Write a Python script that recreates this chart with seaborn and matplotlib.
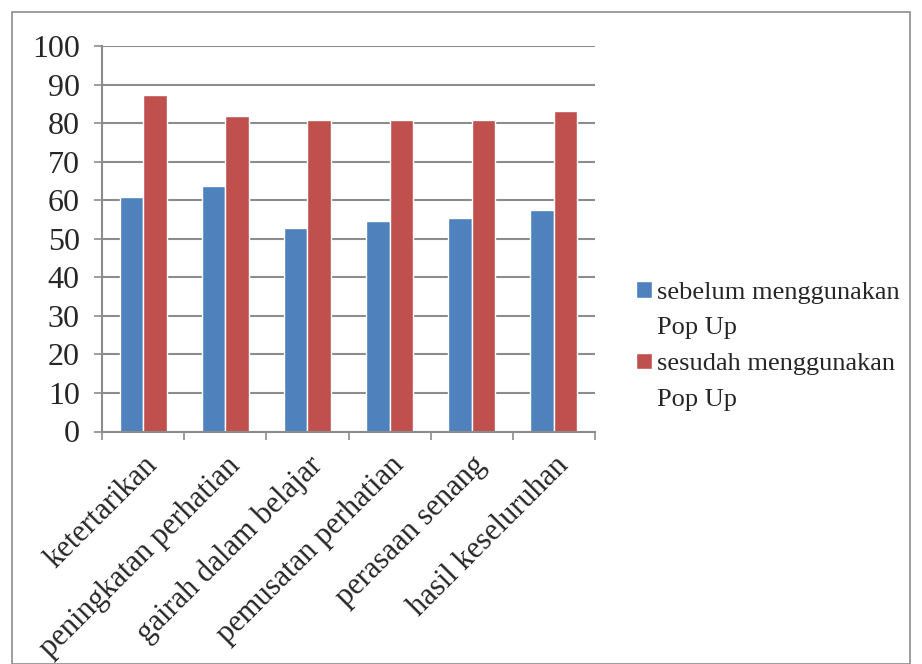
import pandas as pd
import matplotlib.pyplot as plt
import seaborn as sns
from matplotlib.patches import Rectangle

# Data
categories = ['ketertarikan', 'peningkatan perhatian', 'gairah dalam belajar',
              'pemusatan perhatian', 'perasaan senang', 'hasil keseluruhan']
sebelum = [60.9, 63.6, 52.7, 54.5, 55.5, 57.4]
sesudah = [87.2, 81.8, 80.9, 80.9, 80.9, 83.2]
series_names = ['sebelum menggunakan', 'sesudah menggunakan']

df = pd.DataFrame({
    'kategori': categories * 2,
    'nilai': sebelum + sesudah,
    'seri': [series_names[0]] * len(categories) + [series_names[1]] * len(categories),
})

sns.set_style('white')
plt.rcParams['font.family'] = ['Liberation Serif', 'DejaVu Serif']

fig = plt.figure(figsize=(9.22, 6.64), dpi=100)
ax = fig.add_axes([102 / 922, 1 - 431.5 / 664, 493 / 922, 385.5 / 664])

sns.barplot(data=df, x='kategori', y='nilai', hue='seri', ax=ax,
            palette=['#4F81BD', '#C0504D'], width=0.57, gap=0,
            saturation=1, legend=True)

ax.set_ylim(0, 100)
ax.set_xlim(-0.5, len(categories) - 0.5)
ax.set_yticks(range(0, 101, 10))
ax.yaxis.grid(True, color='#8c8c8c', linewidth=1.5)
ax.set_axisbelow(True)
ax.set_xlabel('')
ax.set_ylabel('')

for side in ['top', 'right']:
    ax.spines[side].set_visible(False)
for side in ['left', 'bottom']:
    ax.spines[side].set_color('#8c8c8c')
    ax.spines[side].set_linewidth(1.5)

ax.tick_params(axis='y', direction='out', length=6, width=1.2, color='#8c8c8c',
               labelsize=23, pad=10, left=True)
ax.set_xticks([i - 0.5 for i in range(len(categories) + 1)], minor=False)
ax.set_xticklabels([''] * (len(categories) + 1))
ax.tick_params(axis='x', direction='out', length=6, width=1.2, color='#8c8c8c', bottom=True)
ax.set_xticks(range(len(categories)), minor=True)
ax.set_xticklabels(categories, minor=True, rotation=45, ha='right',
                   rotation_mode='anchor', fontsize=22)
ax.tick_params(axis='x', which='minor', length=0, pad=14)

handles, labels = ax.get_legend_handles_labels()
ax.legend_.remove()
blank = Rectangle((0, 0), 1, 1, visible=False)
fig.legend([handles[0], blank, handles[1], blank],
           [labels[0], 'Pop Up', labels[1], 'Pop Up'],
           loc='center left', bbox_to_anchor=(612 / 922, 1 - 346 / 664),
           frameon=False, fontsize=19, handlelength=0.6, handleheight=0.6,
           handletextpad=0.2, labelspacing=0.5)

# outer chart border
fig.patches.append(Rectangle((12 / 922, 0), 898 / 922, 652 / 664, transform=fig.transFigure,
                             fill=False, edgecolor='#8c8c8c', linewidth=1.2))

fig.savefig('out.png', dpi=100)
